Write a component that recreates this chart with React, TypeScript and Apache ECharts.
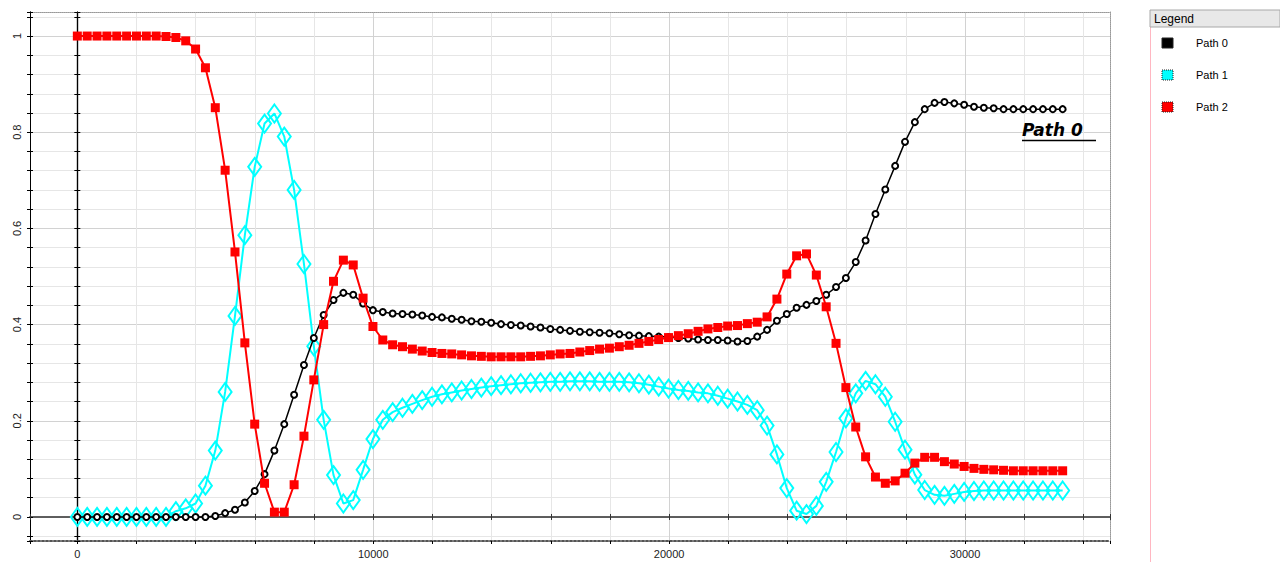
import React, { useEffect, useRef } from "react";
import * as echarts from "echarts";

const X_VALUES = [0,333,666,999,1332,1665,1998,2331,2664,2997,3330,3663,3996,4329,4662,4995,5328,5661,5994,6327,6660,6993,7326,7659,7992,8325,8658,8991,9324,9657,9990,10323,10656,10989,11322,11655,11988,12321,12654,12987,13320,13653,13986,14319,14652,14985,15318,15651,15984,16317,16650,16983,17316,17649,17982,18315,18648,18981,19314,19647,19980,20313,20646,20979,21312,21645,21978,22311,22644,22977,23310,23643,23976,24309,24642,24975,25308,25641,25974,26307,26640,26973,27306,27639,27972,28305,28638,28971,29304,29637,29970,30303,30636,30969,31302,31635,31968,32301,32634,32967,33300];

const PATH0 = [0,0,0,0,0,0,0,0,0,0,
0,0,0,0,0.002,0.008,0.015,0.03,0.054,0.089,
0.138,0.193,0.254,0.316,0.372,0.42,0.451,0.466,0.462,0.444,
0.43,0.426,0.423,0.422,0.421,0.419,0.416,0.415,0.412,0.41,
0.407,0.406,0.404,0.401,0.399,0.398,0.396,0.394,0.391,0.389,
0.387,0.385,0.384,0.383,0.382,0.38,0.378,0.377,0.376,0.375,
0.374,0.372,0.371,0.369,0.368,0.368,0.367,0.365,0.366,0.375,
0.389,0.408,0.422,0.435,0.441,0.449,0.462,0.478,0.497,0.53,
0.575,0.63,0.681,0.73,0.78,0.821,0.848,0.861,0.863,0.86,
0.857,0.853,0.851,0.85,0.848,0.848,0.848,0.848,0.848,0.848,
0.848];

const PATH1 = [0,0,0,0,0,0,0,0,0,0,
0.012,0.018,0.028,0.065,0.138,0.26,0.418,0.586,0.728,0.818,
0.839,0.791,0.68,0.526,0.355,0.202,0.087,0.028,0.035,0.098,
0.162,0.202,0.218,0.227,0.235,0.243,0.25,0.255,0.259,0.263,
0.266,0.269,0.272,0.274,0.276,0.278,0.279,0.28,0.281,0.281,
0.282,0.282,0.282,0.281,0.281,0.281,0.28,0.278,0.275,0.271,
0.267,0.264,0.262,0.259,0.257,0.252,0.246,0.24,0.233,0.222,
0.19,0.13,0.06,0.013,0.006,0.023,0.073,0.135,0.205,0.257,
0.283,0.276,0.25,0.198,0.14,0.088,0.056,0.046,0.044,0.048,
0.052,0.054,0.055,0.055,0.055,0.055,0.055,0.055,0.055,0.055,
0.055];

const PATH2 = [1,1,1,1,1,1,1,1,1,0.999,
0.997,0.99,0.973,0.934,0.851,0.721,0.551,0.362,0.193,0.07,
0.01,0.01,0.067,0.168,0.285,0.4,0.49,0.534,0.524,0.455,
0.396,0.368,0.358,0.354,0.349,0.345,0.342,0.34,0.339,0.337,
0.335,0.334,0.333,0.333,0.333,0.333,0.334,0.335,0.337,0.339,
0.34,0.343,0.346,0.349,0.351,0.354,0.357,0.361,0.365,0.369,
0.373,0.377,0.381,0.386,0.391,0.394,0.397,0.398,0.402,0.405,
0.416,0.453,0.505,0.543,0.547,0.503,0.437,0.361,0.269,0.187,
0.125,0.083,0.07,0.075,0.091,0.112,0.124,0.124,0.115,0.11,
0.105,0.101,0.099,0.098,0.097,0.096,0.096,0.096,0.096,0.096,
0.096];

const SERIES_NAMES = ["Path 0", "Path 1", "Path 2"];
const SERIES_COLORS = ["#000000", "#00ffff", "#ff0000"];

const X_MIN = -1600;
const X_MAX = 34900;
const Y_MIN = -0.05;
const Y_MAX = 1.05;

const FONT = "'Liberation Sans', Arial, sans-serif";

function pairs(ys: number[]) {
  return ys.map((y, i) => [X_VALUES[i], y]);
}

export default function App() {
  const ref = useRef<HTMLDivElement>(null);

  useEffect(() => {
    if (!ref.current) return;
    const chart = echarts.init(ref.current, null, { renderer: "svg" });

    const xBase = { type: "value", min: X_MIN, max: X_MAX, minInterval: 2000, maxInterval: 2000 };
    const yBase = { type: "value", min: Y_MIN, max: Y_MAX, minInterval: 0.04, maxInterval: 0.04 };
    const hidden = { axisLabel: { show: false }, splitLine: { show: false } };

    const option: any = {
      animation: false,
      backgroundColor: "#ffffff",
      grid: { left: 30, top: 12, width: 1080, height: 529, containLabel: false },
      xAxis: [
        {
          ...xBase,
          position: "bottom",
          axisLine: { onZero: false, lineStyle: { color: "#555", type: "dotted", width: 2 } },
          axisTick: { show: true, length: 3, lineStyle: { color: "#000" } },
          axisLabel: {
            margin: 7,
            color: "#222",
            fontSize: 11,
            fontFamily: FONT,
            formatter: (v: number) => (Math.abs(v % 10000) < 1e-6 ? String(v) : ""),
          },
          splitLine: { show: true, lineStyle: { color: "#e6e6e6", width: 1 } },
        },
        {
          ...xBase,
          position: "top",
          axisLine: { onZero: false, lineStyle: { color: "#999", type: "dotted", width: 1 } },
          axisTick: { show: false },
          ...hidden,
        },
        {
          ...xBase,
          position: "bottom",
          axisLine: { onZero: true, onZeroAxisIndex: 0, lineStyle: { color: "#555", width: 1.5 } },
          axisTick: { show: true, length: 3, lineStyle: { color: "#333" } },
          ...hidden,
        },
        {
          ...xBase,
          position: "top",
          axisLine: { onZero: true, onZeroAxisIndex: 0, lineStyle: { color: "#555", width: 1.5 } },
          axisTick: { show: true, length: 3, lineStyle: { color: "#333" } },
          ...hidden,
        },
        {
          type: "value", min: X_MIN, max: X_MAX, minInterval: 10000, maxInterval: 10000,
          axisLine: { show: false, onZero: false },
          axisTick: { show: false },
          axisLabel: { show: false },
          splitLine: { show: true, lineStyle: { color: "#d2d2d2", width: 1 } },
        },
      ],
      yAxis: [
        {
          ...yBase,
          position: "left",
          axisLine: { onZero: false, lineStyle: { color: "#000", width: 1 } },
          axisTick: { show: true, length: 3, lineStyle: { color: "#000" } },
          axisLabel: {
            rotate: 90,
            margin: 8,
            color: "#222",
            fontSize: 11,
            fontFamily: FONT,
            formatter: (v: number) => {
              const k = v / 0.2;
              return Math.abs(k - Math.round(k)) < 1e-6 ? String(Math.round(v * 10) / 10) : "";
            },
          },
          splitLine: { show: true, lineStyle: { color: "#e6e6e6", width: 1 } },
        },
        {
          ...yBase,
          position: "left",
          axisLine: { onZero: false, lineStyle: { color: "#000", width: 1 } },
          axisTick: { show: true, inside: true, length: 3, lineStyle: { color: "#000" } },
          ...hidden,
        },
        {
          ...yBase,
          position: "right",
          axisLine: { onZero: false, lineStyle: { color: "#999", type: "dotted", width: 1 } },
          axisTick: { show: false },
          ...hidden,
        },
        {
          ...yBase,
          position: "left",
          axisLine: { onZero: true, onZeroAxisIndex: 0, lineStyle: { color: "#000", width: 1.2 } },
          axisTick: { show: true, length: 3, lineStyle: { color: "#000" } },
          ...hidden,
        },
        {
          ...yBase,
          position: "right",
          axisLine: { onZero: true, onZeroAxisIndex: 0, lineStyle: { color: "#000", width: 1.2 } },
          axisTick: { show: true, length: 3, lineStyle: { color: "#000" } },
          ...hidden,
        },
        {
          type: "value", min: Y_MIN, max: Y_MAX, minInterval: 0.2, maxInterval: 0.2,
          axisLine: { show: false, onZero: false },
          axisTick: { show: false },
          axisLabel: { show: false },
          splitLine: { show: true, lineStyle: { color: "#d2d2d2", width: 1 } },
        },
      ],
      series: [
        {
          name: SERIES_NAMES[0],
          type: "line",
          xAxisIndex: 0,
          yAxisIndex: 0,
          data: pairs(PATH0),
          showSymbol: true,
          showAllSymbol: true,
          symbol: "emptyCircle",
          symbolSize: 6,
          lineStyle: { color: SERIES_COLORS[0], width: 1.5 },
          itemStyle: { color: SERIES_COLORS[0], borderColor: SERIES_COLORS[0], borderWidth: 1.5 },
          z: 4,
        },
        {
          name: SERIES_NAMES[1],
          type: "line",
          xAxisIndex: 0,
          yAxisIndex: 0,
          data: pairs(PATH1),
          showSymbol: true,
          showAllSymbol: true,
          symbol: "diamond",
          symbolSize: [13, 18],
          lineStyle: { color: SERIES_COLORS[1], width: 2 },
          itemStyle: { color: "rgba(0,0,0,0)", borderColor: SERIES_COLORS[1], borderWidth: 2 },
          z: 3,
        },
        {
          name: SERIES_NAMES[2],
          type: "line",
          xAxisIndex: 0,
          yAxisIndex: 0,
          data: pairs(PATH2),
          showSymbol: true,
          showAllSymbol: true,
          symbol: "rect",
          symbolSize: 9,
          lineStyle: { color: SERIES_COLORS[2], width: 2 },
          itemStyle: { color: SERIES_COLORS[2] },
          z: 5,
        },
      ],
      graphic: [
        { type: "line", shape: { x1: 1150.5, y1: 10, x2: 1150.5, y2: 562 }, style: { stroke: "#ffb6c1", lineWidth: 1 } },
        { type: "rect", shape: { x: 1150, y: 10, width: 130, height: 17 }, style: { fill: "#e8e8e8", stroke: "#a8a8a8", lineWidth: 1 } },
        { type: "text", x: 1154, y: 18.5, style: { text: "Legend", fill: "#000", font: `12px ${FONT}`, textVerticalAlign: "middle" } },
        ...SERIES_NAMES.flatMap((name, i) => [
          {
            type: "rect",
            shape: { x: 1162, y: 38 + i * 32, width: 11, height: 10 },
            style: { fill: SERIES_COLORS[i], stroke: "#222", lineWidth: 1, lineDash: i === 0 ? null : [1, 1] },
          },
          {
            type: "text",
            x: 1196,
            y: 43 + i * 32,
            style: { text: name, fill: "#000", font: `11px ${FONT}`, textVerticalAlign: "middle" },
          },
        ]),
        {
          type: "text",
          x: 1022,
          y: 130,
          style: {
            text: "Path 0",
            fill: "#000",
            font: `italic bold 17px 'DejaVu Sans', sans-serif`,
            textVerticalAlign: "middle",
          },
          z: 10,
        },
        { type: "line", shape: { x1: 1022, y1: 140.5, x2: 1096, y2: 140.5 }, style: { stroke: "#000", lineWidth: 1.5 }, z: 10 },
      ],
    };

    chart.setOption(option);
    return () => chart.dispose();
  }, []);

  return (
    <div
      ref={ref}
      style={{ position: "fixed", left: 0, top: 0, width: 1280, height: 562, background: "#fff" }}
    />
  );
}
